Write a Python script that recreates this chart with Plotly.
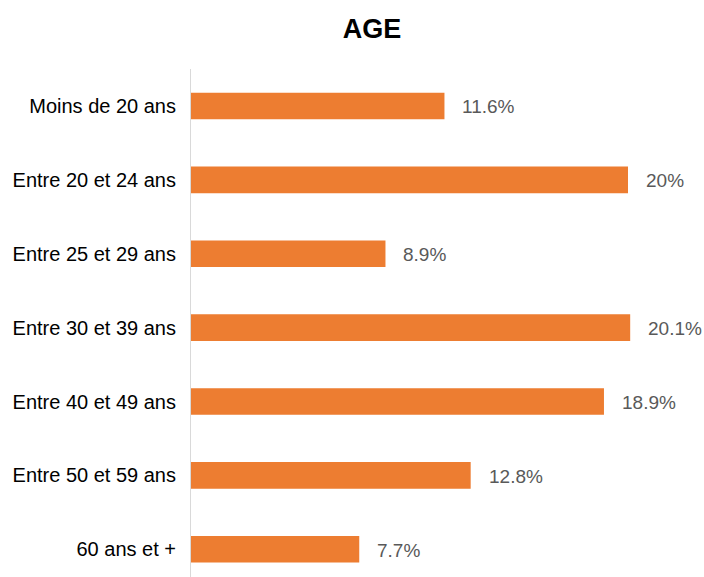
import plotly.graph_objects as go

# Age groups (top to bottom) and their share in percent
categories = [
    "Moins de 20 ans",
    "Entre 20 et 24 ans",
    "Entre 25 et 29 ans",
    "Entre 30 et 39 ans",
    "Entre 40 et 49 ans",
    "Entre 50 et 59 ans",
    "60 ans et +",
]
values = [11.6, 20, 8.9, 20.1, 18.9, 12.8, 7.7]
value_labels = ["11.6%", "20%", "8.9%", "20.1%", "18.9%", "12.8%", "7.7%"]

W, H = 704, 577
FONT = "Liberation Sans, Arial, sans-serif"

fig = go.Figure(
    go.Bar(
        x=values,
        y=categories,
        orientation="h",
        marker=dict(color="#ED7D31", line=dict(width=0)),
        width=0.36,
        hoverinfo="skip",
    )
)

for cat, val, lab in zip(categories, values, value_labels):
    fig.add_annotation(
        x=val, y=cat, xref="x", yref="y",
        text=lab, showarrow=False,
        xanchor="left", yanchor="middle", xshift=16, yshift=-1,
        font=dict(family=FONT, size=19, color="#595959"),
    )

fig.update_layout(
    width=W, height=H,
    margin=dict(l=191, r=0, t=69, b=0),
    paper_bgcolor="white",
    plot_bgcolor="white",
    showlegend=False,
    title=dict(
        text="<b>AGE</b>",
        x=372 / W, xref="container", xanchor="center",
        y=1 - 29 / H, yref="container", yanchor="middle",
        font=dict(family=FONT, size=27, color="#000000"),
    ),
    xaxis=dict(
        range=[0, 513 / 21.85],
        showgrid=False, zeroline=False, showline=False,
        showticklabels=False, fixedrange=True,
    ),
    yaxis=dict(
        type="category",
        categoryorder="array", categoryarray=categories,
        range=[6.375, -0.5],
        showgrid=False, zeroline=False,
        showline=True, linecolor="#D9D9D9", linewidth=1,
        ticks="", ticklabelstandoff=10,
        tickfont=dict(family=FONT, size=20, color="#000000"),
        fixedrange=True,
    ),
)

fig.write_html("out.html")
